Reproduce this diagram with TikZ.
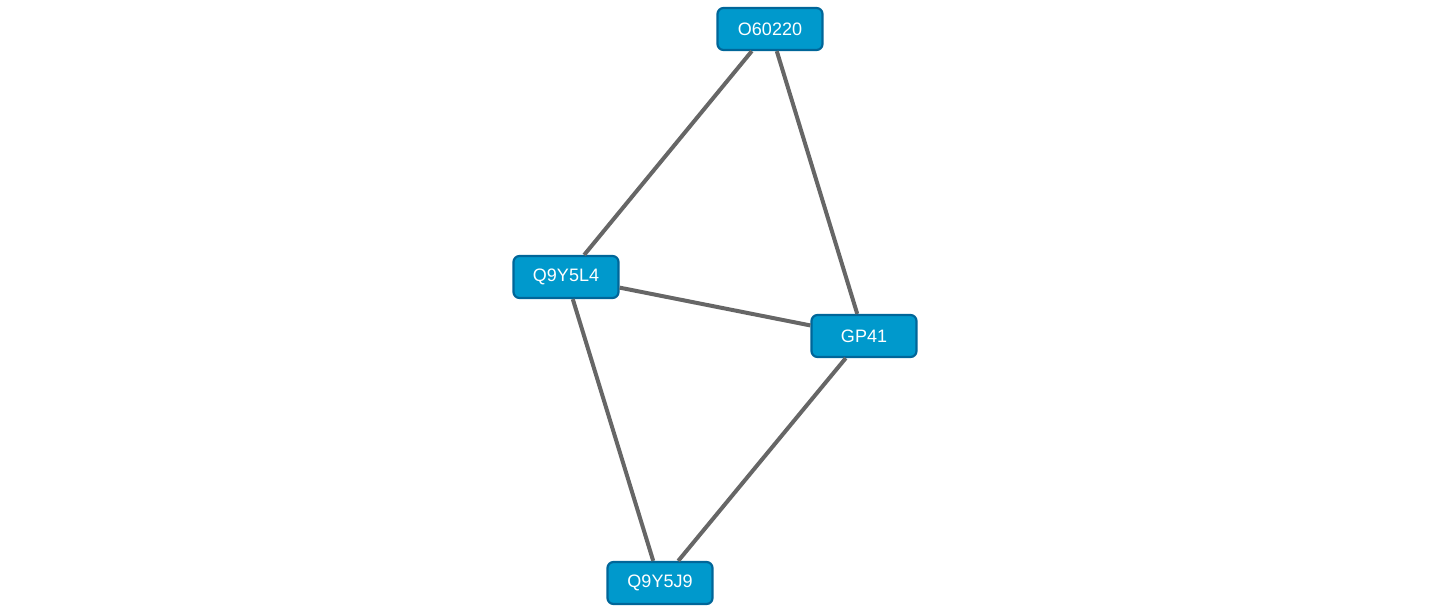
\documentclass[tikz,border=0pt]{standalone}
\usepackage{fontspec}
\setmainfont{Liberation Sans}
\definecolor{nodefill}{HTML}{0099CC}
\definecolor{nodeedge}{HTML}{006699}
\definecolor{edgegray}{HTML}{666666}
\begin{document}
\begin{tikzpicture}[x=1pt,y=-1pt,
  prot/.style={draw=nodeedge, fill=nodefill, line width=2.2pt, rounded corners=6pt,
    minimum width=105pt, minimum height=42pt, inner sep=0pt,
    text=white, font=\fontsize{18}{20}\selectfont},
  link/.style={draw=edgegray, line width=4pt}]
\useasboundingbox (0,0) rectangle (1431,613);
\node[prot] (o) at (770,29) {O60220};
\node[prot] (l4) at (566,277) {Q9Y5L4};
\node[prot] (gp) at (864,336) {GP41};
\node[prot] (j9) at (660,583) {Q9Y5J9};
\begin{scope}[on background layer/.try]
\end{scope}
\draw[link] (o) -- (l4);
\draw[link] (o) -- (gp);
\draw[link] (l4) -- (gp);
\draw[link] (l4) -- (j9);
\draw[link] (gp) -- (j9);
\end{tikzpicture}
\end{document}
